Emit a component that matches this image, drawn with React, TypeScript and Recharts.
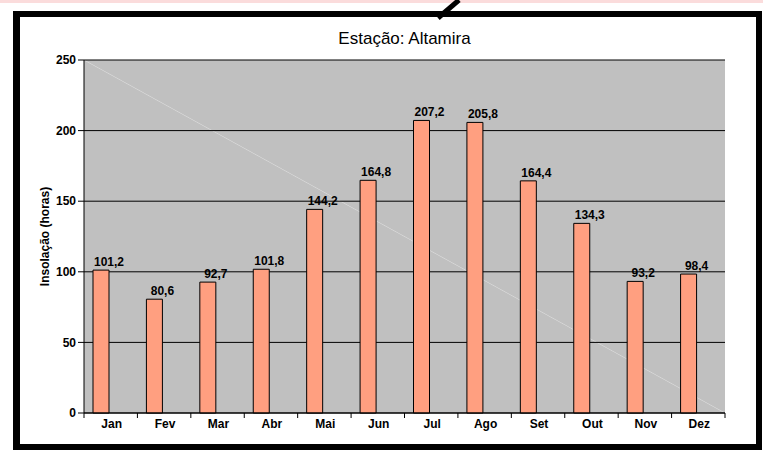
import React from "react"
import { BarChart, Bar, XAxis, YAxis, CartesianGrid, LabelList, ReferenceArea } from "recharts"

const months = ["Jan", "Fev", "Mar", "Abr", "Mai", "Jun", "Jul", "Ago", "Set", "Out", "Nov", "Dez"]
const insolacao = [101.2, 80.6, 92.7, 101.8, 144.2, 164.8, 207.2, 205.8, 164.4, 134.3, 93.2, 98.4]
const yTicks = [0, 50, 100, 150, 200, 250]

// second (empty) series keeps the bars off-centre like the original sheet
const data = months.map((m, i) => ({ mes: m, valor: insolacao[i], vazio: null }))

const W = 763
const H = 450
const margin = { top: 60, right: 38, bottom: 17, left: 40 }
const yAxisWidth = 44
const plotLeft = margin.left + yAxisWidth
const plotWidth = W - margin.right - plotLeft
const step = plotWidth / months.length

const font = "'Liberation Sans', Arial, sans-serif"

function MonthTick(props: any) {
  const { x, y, payload, index } = props
  const left = x - step / 2
  return (
    <g>
      <line x1={left} y1={y - 8} x2={left} y2={y - 3} stroke="#000" />
      {index === months.length - 1 && <line x1={x + step / 2} y1={y - 8} x2={x + step / 2} y2={y - 3} stroke="#000" />}
      <text x={x + 1} y={y + 7} textAnchor="middle" fontFamily={font} fontSize={12} fontWeight="bold" fill="#000">
        {payload.value}
      </text>
    </g>
  )
}

export default function App() {
  return (
    <div style={{ position: "absolute", left: 0, top: 0, width: W, height: H, background: "#fff", overflow: "hidden" }}>
      <div style={{ position: "absolute", left: 0, top: 0, width: W, height: 3, background: "#fbdcdc" }} />
      <div
        style={{
          position: "absolute",
          left: 13,
          top: 11,
          width: 749,
          height: 439,
          boxSizing: "border-box",
          border: "6px solid #000",
          borderLeftWidth: 7,
        }}
      />
      <svg style={{ position: "absolute", left: 0, top: 0 }} width={W} height={H}>
        <defs>
          <linearGradient id="plotBg" x1="0" y1="1" x2="1" y2="0">
            <stop offset="0" stopColor="#c0c0c0" />
            <stop offset="0.4988" stopColor="#c0c0c0" />
            <stop offset="0.5" stopColor="#d6d6d6" />
            <stop offset="0.5012" stopColor="#c0c0c0" />
            <stop offset="1" stopColor="#c0c0c0" />
          </linearGradient>
        </defs>
        <line x1={438} y1={18} x2={459} y2={0} stroke="#000" strokeWidth={5} />
      </svg>
      <div
        style={{
          position: "absolute",
          left: plotLeft,
          width: plotWidth,
          top: 29,
          textAlign: "center",
          fontFamily: font,
          fontSize: 17,
          color: "#000",
        }}
      >
        Estação: Altamira
      </div>
      <div style={{ position: "absolute", left: 0, top: 0 }}>
        <BarChart width={W} height={H} data={data} margin={margin} barSize={16} barGap={4}>
          <CartesianGrid vertical={false} stroke="#000" fill="url(#plotBg)" fillOpacity={1} />
          <XAxis
            dataKey="mes"
            xAxisId="cat"
            axisLine={{ stroke: "#000" }}
            tickLine={false}
            tick={<MonthTick />}
            interval={0}
            height={20}
          />
          <XAxis xAxisId="n" type="number" domain={[0, 12]} hide />
          <YAxis
            domain={[0, 250]}
            ticks={yTicks}
            width={yAxisWidth}
            axisLine={{ stroke: "#000" }}
            tickLine={{ stroke: "#000" }}
            tickSize={6}
            tick={{ fill: "#000", fontSize: 12, fontWeight: "bold", fontFamily: font }}
            label={{
              value: "Insolação (horas)",
              angle: -90,
              position: "insideLeft",
              offset: 5,
              style: { textAnchor: "middle", fontFamily: font, fontSize: 12, fontWeight: "bold", fill: "#000" },
            }}
          />
          <ReferenceArea xAxisId="n" x1={0} x2={12} y1={0} y2={250} fill="none" stroke="#000" strokeWidth={1} />
          <Bar dataKey="valor" xAxisId="cat" fill="#ff9f80" stroke="#000" strokeWidth={1} isAnimationActive={false}>
            <LabelList
              dataKey="valor"
              position="top"
              offset={4}
              dx={8}
              formatter={(v: any) => String(v).replace(".", ",")}
              style={{ fontFamily: font, fontSize: 12, fontWeight: "bold", fill: "#000" }}
            />
          </Bar>
          <Bar dataKey="vazio" xAxisId="cat" fill="none" isAnimationActive={false} />
        </BarChart>
      </div>
    </div>
  )
}
